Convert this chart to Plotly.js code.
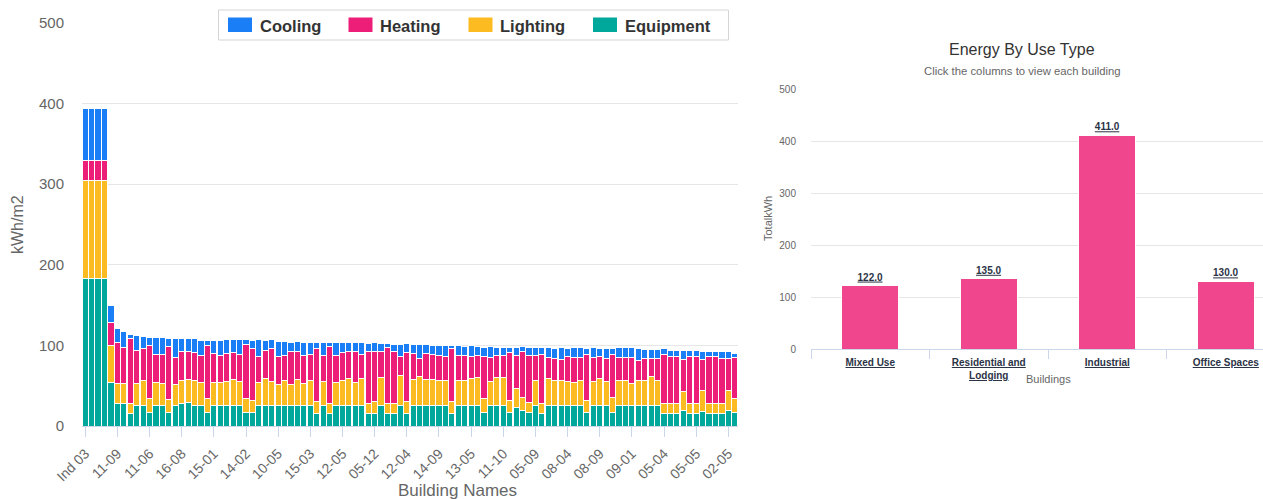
<!DOCTYPE html>
<html><head><meta charset="utf-8">
<script src="https://cdn.plot.ly/plotly-3.0.1.min.js"></script>
<style>html,body{margin:0;padding:0;background:#fff;} #chart{width:1263px;height:499px;}</style>
</head><body><div id="chart"></div>
<script>
// ---------------- DATA ----------------
const buildingNames = ["Ind 03","Ind 01","Ind 02","Ind 04","12-01","11-09","13-02","11-03","16-02","14-06",
"11-06","15-04","10-02","12-09","16-05","16-08","13-08","10-09","14-04","12-06",
"15-01","16-01","13-04","10-07","15-06","14-02","11-05","16-06","12-03","13-09",
"10-05","14-07","15-08","10-01","16-03","15-03","11-07","13-06","12-07","14-01",
"12-05","10-08","16-09","13-01","05-06","05-12","14-08","05-08","05-10","15-09",
"12-04","10-04","16-07","13-07","15-02","14-09","10-06","05-11","11-02","16-04",
"13-05","12-08","05-07","14-03","15-05","11-10","05-03","06-01","05-02","05-01",
"05-09","06-02","08-01","08-02","08-03","08-04","08-05","08-06","06-03","08-07",
"08-09","08-08","06-04","09-02","09-03","09-01","09-04","09-05","09-06","09-07",
"05-04","02-01","02-02","07-01","02-03","05-05","07-02","02-04","02-06","02-07",
"02-05","07-03"];
const equipment = [183,183,183,183,54,28,28,15,26,26,
17,26,26,17,26,28,29,26,26,17,
26,26,26,26,26,17,17,26,26,26,
26,26,26,26,26,26,16,26,15,26,
26,26,26,26,16,16,26,16,16,26,
16,26,26,26,26,26,26,16,26,26,
26,26,17,26,26,26,17,23,19,17,
26,16,26,26,26,26,26,26,17,26,
26,26,17,26,26,26,26,26,26,26,
16,16,16,19,16,16,18,16,16,16,
19,17];
const lighting = [121,121,121,121,46,25,25,13,27,30,
17,28,27,16,26,29,29,30,28,17,
28,28,29,32,29,17,15,28,33,29,
25,30,26,32,27,30,14,29,13,28,
30,33,28,33,12,14,34,12,12,37,
14,32,35,32,32,31,30,14,31,31,
33,34,17,29,34,34,15,23,16,12,
30,12,33,31,30,29,28,30,15,29,
33,29,18,31,31,27,30,31,35,30,
12,12,12,24,12,12,26,12,12,12,
25,17];
const heating = [25,25,25,25,28,50,45,80,41,40,
66,35,36,66,33,36,35,35,34,66,
36,34,35,33,34,67,64,32,35,41,
35,32,40,35,35,33,66,33,71,34,
35,34,38,30,64,63,32,69,64,23,
61,32,23,32,31,31,30,66,31,30,
27,27,52,30,27,27,59,41,57,58,
31,61,26,27,27,31,31,29,57,30,
27,29,54,28,28,32,25,27,23,28,
61,58,58,40,58,58,38,58,58,56,
40,51];
const cooling = [65,65,65,65,22,18,19,5,18,15,
10,21,21,10,23,15,15,17,18,6,
16,18,17,16,18,6,10,21,12,11,
19,17,12,12,16,15,8,16,4,15,
12,10,11,14,10,10,10,5,9,15,
11,11,17,11,11,12,14,4,12,12,
14,12,12,14,11,11,7,11,7,11,
11,9,12,12,14,10,12,12,7,12,
10,12,7,12,12,12,15,11,11,11,
7,8,8,11,8,8,10,6,6,8,
8,5];
const useTypes = ["Mixed Use","Residential and Lodging","Industrial","Office Spaces"];
const useTypeTickLabels = ["Mixed Use","Residential and<br>Lodging","Industrial","Office Spaces"];
const useTypeTotals = [122,135,411,130];
const seriesNames = ["Cooling","Heating","Lighting","Equipment"];

// ---------------- STYLE ----------------
const W = 1263, H = 499;
const px = x => x / W;
const py = y => (H - y) / H;
const FONT = "Liberation Sans, Arial, Helvetica, sans-serif";
const seriesColors = {Cooling:"#1a7ff6", Heating:"#ec1e78", Lighting:"#fdbb22", Equipment:"#00a89b"};
const seriesData = {Cooling:cooling, Heating:heating, Lighting:lighting, Equipment:equipment};

const traces = [];
// stack from bottom: Equipment, Lighting, Heating, Cooling
["Equipment","Lighting","Heating","Cooling"].forEach(name => {
  traces.push({
    type:"bar", name:name, x:buildingNames, y:seriesData[name],
    xaxis:"x", yaxis:"y", showlegend:false,
    marker:{color:seriesColors[name], line:{color:"#ffffff", width:1}},
    hoverinfo:"x+y+name"
  });
});
const labelColor = "#2b3346";
traces.push({
  type:"bar", x:useTypes, y:useTypeTotals, xaxis:"x2", yaxis:"y2", showlegend:false,
  width:0.48,
  marker:{color:"#ef468e", line:{color:"#ffffff", width:1}},
  texttemplate:"<b><u>%{y:.1f}</u></b>", textposition:"outside", cliponaxis:false,
  textfont:{family:FONT, size:10, color:labelColor}
});

const tickEvery = 5;
const leftTickVals = buildingNames.filter((_, i) => i % tickEvery === 0);

const shapes = [];
const annotations = [];
// custom legend
shapes.push({type:"rect", xref:"paper", yref:"paper", x0:px(218.5), x1:px(728.5), y0:py(40), y1:py(10),
  line:{color:"#d5d5d5", width:1}, fillcolor:"#ffffff", layer:"above"});
const legendSwatchX = [228, 348.5, 468.5, 593];
seriesNames.forEach((name, k) => {
  const x0 = legendSwatchX[k];
  shapes.push({type:"rect", xref:"paper", yref:"paper", x0:px(x0), x1:px(x0+24), y0:py(32), y1:py(17.5),
    line:{width:0}, fillcolor:seriesColors[name], layer:"above"});
  annotations.push({xref:"paper", yref:"paper", x:px(x0+29.5), y:py(26), xanchor:"left", yanchor:"middle",
    text:"<b>"+name+"</b>", showarrow:false, font:{family:FONT, size:16.5, color:"#333333"}});
});
annotations.push({xref:"paper", yref:"paper", x:px(17), y:py(225), textangle:-90, xanchor:"center", yanchor:"middle",
  text:"kWh/m2", showarrow:false, font:{family:FONT, size:16, color:"#666666"}});
annotations.push({xref:"paper", yref:"paper", x:px(457), y:py(490), xanchor:"center", yanchor:"middle",
  text:"Building Names", showarrow:false, font:{family:FONT, size:17, color:"#666666"}});
annotations.push({xref:"paper", yref:"paper", x:px(1022), y:py(50), xanchor:"center", yanchor:"middle",
  text:"Energy By Use Type", showarrow:false, font:{family:FONT, size:16, color:"#333333"}});
annotations.push({xref:"paper", yref:"paper", x:px(1022), y:py(71), xanchor:"center", yanchor:"middle",
  text:"Click the columns to view each building", showarrow:false, font:{family:FONT, size:11.3, color:"#666666"}});
annotations.push({xref:"paper", yref:"paper", x:px(768), y:py(219), textangle:-90, xanchor:"center", yanchor:"middle",
  text:"TotalkWh", showarrow:false, font:{family:FONT, size:11, color:"#666666"}});
annotations.push({xref:"paper", yref:"paper", x:px(1048), y:py(379), xanchor:"center", yanchor:"middle",
  text:"Buildings", showarrow:false, font:{family:FONT, size:11, color:"#666666"}});

const layout = {
  width:W, height:H, margin:{l:0,r:0,t:0,b:0,pad:0},
  paper_bgcolor:"#ffffff", plot_bgcolor:"#ffffff",
  barmode:"stack", bargap:0.04,
  font:{family:FONT, color:"#666666"},
  showlegend:false,
  xaxis:{domain:[px(82), px(738)], anchor:"y", type:"category",
    categoryorder:"array", categoryarray:buildingNames, range:[-0.5, buildingNames.length-0.5],
    tickmode:"array", tickvals:leftTickVals, ticktext:leftTickVals, tickangle:-45,
    tickfont:{family:FONT, size:14, color:"#666666"}, ticklabelstandoff:3,
    ticks:"outside", ticklen:10, tickcolor:"#ccd6eb", tickwidth:1,
    showline:true, linecolor:"#ccd6eb", linewidth:1, showgrid:false, zeroline:false, fixedrange:true},
  yaxis:{domain:[py(426), py(23)], anchor:"x", range:[0,500], dtick:100, tick0:0,
    gridcolor:"#e6e6e6", gridwidth:1, zeroline:false, showline:false,
    tickfont:{family:FONT, size:15, color:"#666666"}, ticks:"", ticklabelstandoff:17, fixedrange:true},
  xaxis2:{domain:[px(811), 1], anchor:"y2", type:"category",
    categoryorder:"array", categoryarray:useTypes, range:[-0.5, 3.314],
    tickmode:"array", tickvals:useTypes,
    ticktext:useTypeTickLabels.map(t => t.split("<br>").map(s => "<b><u>"+s+"</u></b>").join("<br>")),
    tickangle:0, tickfont:{family:FONT, size:10, color:labelColor}, ticklabelstandoff:4,
    tickson:"boundaries", ticks:"outside", ticklen:9, tickcolor:"#ccd6eb", tickwidth:1,
    showline:true, linecolor:"#ccd6eb", linewidth:1, showgrid:false, zeroline:false, fixedrange:true},
  yaxis2:{domain:[py(349), py(89)], anchor:"x2", range:[0,500], dtick:100, tick0:0,
    gridcolor:"#e6e6e6", gridwidth:1, zeroline:false, showline:false,
    tickfont:{family:FONT, size:10, color:"#666666"}, ticks:"", ticklabelstandoff:14, fixedrange:true},
  shapes:shapes, annotations:annotations
};

Plotly.newPlot("chart", traces, layout, {displayModeBar:false, responsive:false});
</script>
</body></html>
